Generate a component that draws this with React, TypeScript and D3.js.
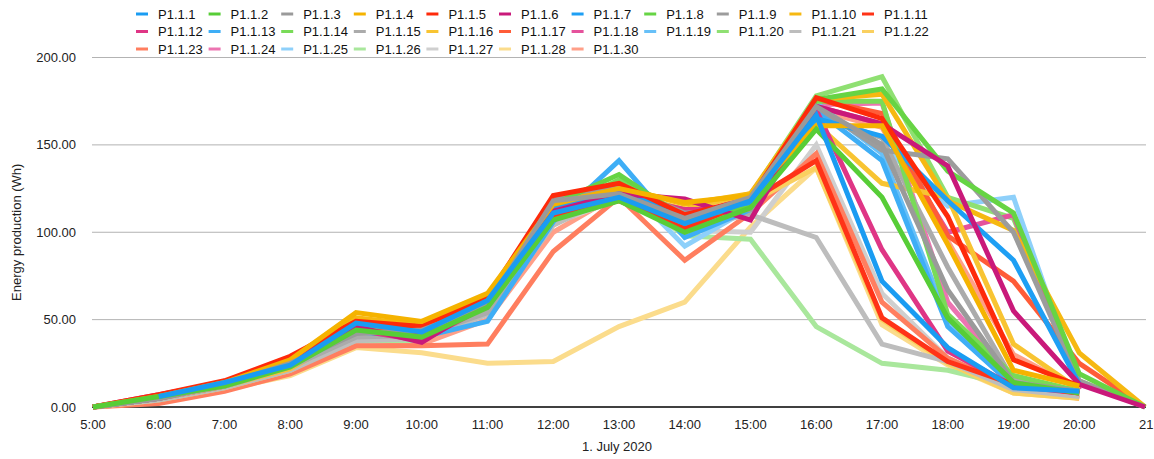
import React from "react";
import * as d3 from "d3";

const hours = ["5:00","6:00","7:00","8:00","9:00","10:00","11:00","12:00","13:00","14:00","15:00","16:00","17:00","18:00","19:00","20:00","21:00"];
const seriesNames = ["P1.1.1","P1.1.2","P1.1.3","P1.1.4","P1.1.5","P1.1.6","P1.1.7","P1.1.8","P1.1.9","P1.1.10","P1.1.11","P1.1.12","P1.1.13","P1.1.14","P1.1.15","P1.1.16","P1.1.17","P1.1.18","P1.1.19","P1.1.20","P1.1.21","P1.1.22","P1.1.23","P1.1.24","P1.1.25","P1.1.26","P1.1.27","P1.1.28","P1.1.30"];
const seriesColors = ["#1a9cf2","#57cd37","#9a9a9a","#f5b300","#fe2a0a","#c9197a","#1e9ff4","#66d444","#9c9c9c","#f6b811","#ff3317","#df3585","#3eaef6","#79db58","#ababab","#f8c432","#ff5c38","#e5529c","#67c0f8","#8fe072","#bdbdbd","#fad060","#ff7e5f","#ec74b1","#8ed0fa","#a9e79c","#cfcfcf","#fbdc8c","#ff9f88"];
const seriesValues: (number | null)[][] = [
  [null, 6, 14, 24, 48, 43, 61, 111, 120, 105, 118, 167, 72, 34, 11, 9, null],
  [0, 6, 12, 23, 44, 40, 57, 107, 118, 100, 114, 159, 120, 51, 14, 8, null],
  [0, 5, 13, 25, 42, 44, 58, 118, 122, 108, 120, 172, 150, 67, 14, 9, null],
  [0, 6, 14, 27, 54, 49, 65, 116, 125, 117, 121, 161, 161, 93, 21, 12, null],
  [0, 7, 15, 29, 49, 46, 63, 121, 128, 110, 119, 177, 165, 109, 27, 12, null],
  [0, 7, 14, 26, 46, 37, 60, 112, 122, 119, 107, 172, 162, 138, 55, 13, 0],
  [null, 6, 14, 26, 48, 44, 62, 115, 124, 110, 117, 165, 155, 118, 84, 13, null],
  [0, 6, 14, 26, 47, 45, 61, 116, 133, 108, 115, 176, 182, 135, 111, 19, 0],
  [0, 5, 13, 26, 47, 44, 59, 120, 127, 111, 113, 172, 147, 142, 100, 15, 0],
  [0, 6, 14, 27, 51, 47, 63, 118, 126, 116, 122, 176, 179, 118, 101, 31, 0],
  [0, 6, 14, 27, 47, 43, 61, 110, 118, 102, 118, 141, 51, 26, 13, 8, null],
  [0, 5, 13, 25, 44, 38, 58, 108, 121, 113, 113, 170, 90, 32, 12, 8, null],
  [0, 5, 13, 24, 43, 40, 49, 106, 141, 97, 113, 170, 141, 46, 12, 9, null],
  [0, 5, 13, 24, 43, 42, 58, 112, 130, 104, 116, 175, 175, 53, 18, 9, null],
  [0, 5, 12, 23, 40, 41, 54, 109, 123, 109, 111, 168, 154, 80, 15, 8, null],
  [0, 5, 12, 22, 43, 44, 58, 113, 123, 113, 122, 162, 128, 120, 36, 10, null],
  [0, 5, 12, 24, 45, 43, 59, 113, 125, 104, 118, 176, 168, 98, 72, 25, 0],
  [0, 5, 12, 24, 42, 40, 56, 110, 124, 107, 115, 172, 162, 100, 110, 10, null],
  [0, 5, 12, 23, 42, 41, 55, 109, 126, 105, 116, 174, 145, 50, 14, 9, null],
  [0, 5, 12, 23, 43, 41, 57, 112, 126, 104, 121, 178, 189, 120, 108, 15, 0],
  [0, 4, 11, 21, 38, 39, 53, 104, 122, 103, 110, 97, 36, 26, 10, 6, null],
  [0, 4, 11, 21, 40, 40, 55, 108, 121, 110, 117, 137, 50, 25, 8, 5, null],
  [0, 2, 9, 19, 35, 35, 36, 89, 120, 84, 111, 145, 60, 28, 11, 5, null],
  [0, 4, 11, 22, 41, 40, 56, 110, 124, 106, 122, 173, 174, 60, 16, 8, null],
  [0, 4, 11, 22, 40, 41, 54, 108, 130, 92, 114, 170, 150, 115, 120, 12, null],
  [0, 4, 11, 21, 38, 38, 55, 107, 125, 98, 96, 46, 25, 21, 12, 7, null],
  [0, 4, 11, 21, 37, 39, 54, 105, 119, 101, 100, 150, 65, 28, 10, 6, null],
  [0, 3, 10, 18, 34, 31, 25, 26, 46, 60, 103, 137, 47, 24, 8, 5, null],
  [0, 3, 10, 19, 35, 36, 50, 100, 122, 100, 118, 170, 160, 95, 30, 10, null],
];
const yTicks = [0, 50, 100, 150, 200];
const xTitle = "1. July 2020";
const yTitle = "Energy production (Wh)";

const W = 1154, H = 459;
const FONT = "'Liberation Sans', Arial, Helvetica, sans-serif";

export default function App() {
  const x = d3.scalePoint<string>().domain(hours).range([93, 1145]);
  const y = d3.scaleLinear().domain([0, 200]).range([407, 57.5]);
  const line = d3.line<number | null>()
    .defined((d) => d !== null)
    .x((_, i) => x(hours[i]) as number)
    .y((d) => y(d as number));

  const cols = 11;
  const legendX0 = 136, legendDX = 72.6, legendY0 = 14, legendDY = 17.5;

  const order = seriesValues.map((_, i) => i).reverse();
  const last = hours[hours.length - 1];

  return (
    <svg width={W} height={H} style={{ position: "absolute", left: 0, top: 0, background: "#fff" }} fontFamily={FONT}>
      {yTicks.filter((t) => t > 0).map((t) => (
        <line key={t} x1={92} x2={1146} y1={y(t)} y2={y(t)} stroke="#b3b3b3" strokeWidth={1} />
      ))}
      {yTicks.map((t) => (
        <text key={t} x={76} y={y(t) + 4.5} textAnchor="end" fontSize={13} fill="#222">{t.toFixed(2)}</text>
      ))}
      {hours.map((h) =>
        h === last ? (
          <text key={h} x={(x(h) as number) - 6} y={429} textAnchor="start" fontSize={13} fill="#222">{h}</text>
        ) : (
          <text key={h} x={x(h)} y={429} textAnchor="middle" fontSize={13} fill="#222">{h}</text>
        )
      )}
      <text x={617} y={451} textAnchor="middle" fontSize={13} fill="#222">{xTitle}</text>
      <text transform={`translate(21,${y(100)}) rotate(-90)`} textAnchor="middle" fontSize={13} fill="#222">{yTitle}</text>
      <line x1={92} x2={1146} y1={y(0)} y2={y(0)} stroke="#000" strokeWidth={1.5} />
      {order.map((i) => (
        <path key={i} d={line(seriesValues[i]) || ""} fill="none" stroke={seriesColors[i]} strokeWidth={5} strokeLinejoin="miter" />
      ))}
      {seriesNames.map((n, i) => {
        const cx = legendX0 + (i % cols) * legendDX;
        const cy = legendY0 + Math.floor(i / cols) * legendDY;
        return (
          <g key={n}>
            <line x1={cx} x2={cx + 12} y1={cy} y2={cy} stroke={seriesColors[i]} strokeWidth={3} />
            <text x={cx + 22} y={cy + 4.5} fontSize={13} fill="#111">{n}</text>
          </g>
        );
      })}
    </svg>
  );
}
